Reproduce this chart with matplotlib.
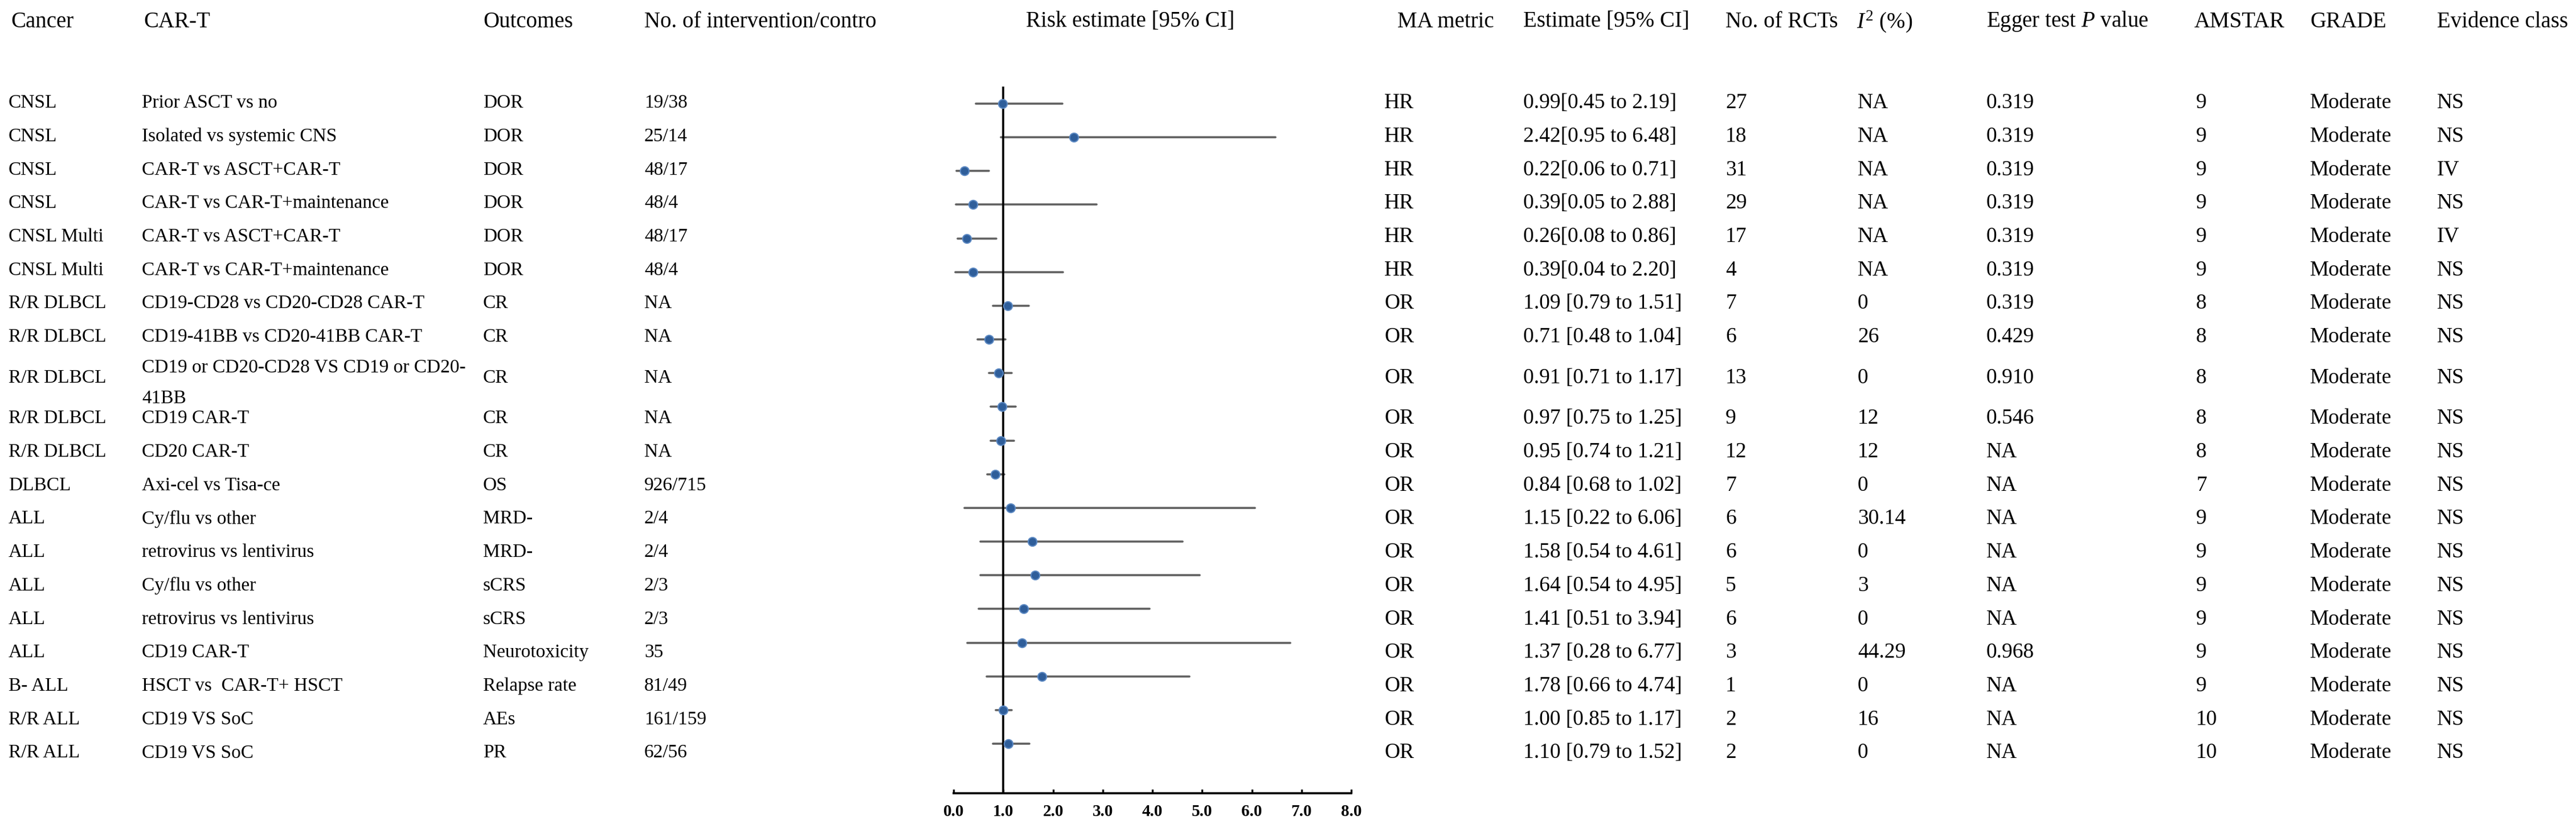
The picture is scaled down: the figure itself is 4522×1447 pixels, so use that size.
import numpy as np
import matplotlib.pyplot as plt

plt.rcParams['font.family'] = ['Liberation Serif', 'DejaVu Serif']
plt.rcParams['mathtext.fontset'] = 'custom'
plt.rcParams['mathtext.rm'] = 'Liberation Serif'
plt.rcParams['mathtext.it'] = 'Liberation Serif:italic'

# table data, one entry per row
cancer = ['CNSL', 'CNSL', 'CNSL', 'CNSL', 'CNSL Multi', 'CNSL Multi',
          'R/R DLBCL', 'R/R DLBCL', 'R/R DLBCL', 'R/R DLBCL', 'R/R DLBCL', 'DLBCL',
          'ALL', 'ALL', 'ALL', 'ALL', 'ALL', 'B- ALL', 'R/R ALL', 'R/R ALL']
car_t = ['Prior ASCT vs no', 'Isolated vs systemic CNS', 'CAR-T vs ASCT+CAR-T',
         'CAR-T vs CAR-T+maintenance', 'CAR-T vs ASCT+CAR-T', 'CAR-T vs CAR-T+maintenance',
         'CD19-CD28 vs CD20-CD28 CAR-T', 'CD19-41BB vs CD20-41BB CAR-T',
         'CD19 or CD20-CD28 VS CD19 or CD20-\n41BB', 'CD19 CAR-T', 'CD20 CAR-T',
         'Axi-cel vs Tisa-ce', 'Cy/flu vs other', 'retrovirus vs lentivirus',
         'Cy/flu vs other', 'retrovirus vs lentivirus', 'CD19 CAR-T',
         'HSCT vs  CAR-T+ HSCT', 'CD19 VS SoC', 'CD19 VS SoC']
outcomes = ['DOR', 'DOR', 'DOR', 'DOR', 'DOR', 'DOR', 'CR', 'CR', 'CR', 'CR', 'CR', 'OS',
            'MRD-', 'MRD-', 'sCRS', 'sCRS', 'Neurotoxicity', 'Relapse rate', 'AEs', 'PR']
n_int_ctrl = ['19/38', '25/14', '48/17', '48/4', '48/17', '48/4', 'NA', 'NA', 'NA', 'NA',
              'NA', '926/715', '2/4', '2/4', '2/3', '2/3', '35', '81/49', '161/159', '62/56']
ma_metric = ['HR'] * 6 + ['OR'] * 14
estimate = [0.99, 2.42, 0.22, 0.39, 0.26, 0.39, 1.09, 0.71, 0.91, 0.97, 0.95, 0.84,
            1.15, 1.58, 1.64, 1.41, 1.37, 1.78, 1.00, 1.10]
ci_low = [0.45, 0.95, 0.06, 0.05, 0.08, 0.04, 0.79, 0.48, 0.71, 0.75, 0.74, 0.68,
          0.22, 0.54, 0.54, 0.51, 0.28, 0.66, 0.85, 0.79]
ci_high = [2.19, 6.48, 0.71, 2.88, 0.86, 2.20, 1.51, 1.04, 1.17, 1.25, 1.21, 1.02,
           6.06, 4.61, 4.95, 3.94, 6.77, 4.74, 1.17, 1.52]
n_rcts = ['27', '18', '31', '29', '17', '4', '7', '6', '13', '9', '12', '7',
          '6', '6', '5', '6', '3', '1', '2', '2']
i2 = ['NA'] * 6 + ['0', '26', '0', '12', '12', '0', '30.14', '0', '3', '0', '44.29', '0', '16', '0']
egger_p = ['0.319'] * 7 + ['0.429', '0.910', '0.546', 'NA', 'NA', 'NA', 'NA', 'NA', 'NA',
                           '0.968', 'NA', 'NA', 'NA']
amstar = ['9'] * 6 + ['8'] * 5 + ['7'] + ['9'] * 6 + ['10', '10']
grade = ['Moderate'] * 20
evidence = ['NS', 'NS', 'IV', 'NS', 'IV'] + ['NS'] * 15

headers = ['Cancer', 'CAR-T', 'Outcomes', 'No. of intervention/contro',
           'Risk estimate [95% CI]', 'MA metric', 'Estimate [95% CI]', 'No. of RCTs',
           r'$I^2$ (%)', r'Egger test $P$ value', 'AMSTAR', 'GRADE', 'Evidence class']
ticks = [0.0, 1.0, 2.0, 3.0, 4.0, 5.0, 6.0, 7.0, 8.0]

est_text = [f"{e:.2f}{'' if m == 'HR' else ' '}[{lo:.2f} to {hi:.2f}]"
            for e, lo, hi, m in zip(estimate, ci_low, ci_high, ma_metric)]

W, H = 4522, 1447
fig = plt.figure(figsize=(W / 100, H / 100), dpi=100)

# text layer in pixel coordinates
tax = fig.add_axes([0, 0, 1, 1])
tax.set_xlim(0, W)
tax.set_ylim(H, 0)
tax.axis('off')

head_x = [19, 252, 848, 1131, 1801, 2453, 2674, 3029, 3259, 3487, 3852, 4055, 4278]
for x, h in zip(head_x, headers):
    tax.text(x, 38, h, fontsize=28, va='center', ha='left')

# table rows: wrapped rows get extra room above and below
gaps = []
for i in range(1, len(car_t)):
    extra = 13 if ('\n' in car_t[i] or '\n' in car_t[i - 1]) else 0
    gaps.append(1 + extra / 58.7)
gaps = np.array(gaps)
row_y = 181 + np.concatenate([[0], np.cumsum(gaps)]) * (1322 - 181) / gaps.sum()

left_cols = [(15, cancer), (249, car_t), (848, outcomes), (1131, n_int_ctrl)]
right_cols = [(2430, ma_metric), (2674, est_text), (3029, n_rcts), (3261, i2),
              (3487, egger_p), (3855, amstar), (4055, grade), (4278, evidence)]
for x, col in left_cols:
    for y, s in zip(row_y, col):
        if '\n' in s:
            tax.text(x, y + 9, s, fontsize=24, va='center', ha='left', linespacing=2.0)
        else:
            tax.text(x, y, s, fontsize=24, va='center', ha='left')
for x, col in right_cols:
    for y, s in zip(row_y, col):
        tax.text(x, y, s, fontsize=27, va='center', ha='left')

# forest plot
x0, x1 = 1674, 2372
top, bottom = 152, 1393
first_row, row_step = 182, 59.16
fax = fig.add_axes([x0 / W, 1 - bottom / H, (x1 - x0) / W, (bottom - top) / H])
fax.patch.set_alpha(0)
fax.set_xlim(0, 8)
fax.set_ylim((bottom - first_row) / row_step, (top - first_row) / row_step)
ypos = np.arange(len(estimate))

for y, lo, hi in zip(ypos, ci_low, ci_high):
    fax.plot([lo, hi], [y, y], color='#5f5f5f', lw=2.6, solid_capstyle='round', zorder=2)
fax.axvline(1.0, color='black', lw=2.6, zorder=3)
fax.plot(estimate, ypos, 'o', ms=11, mfc='#2f5e9a', mec='#5b88c2', mew=1.5, zorder=4)

for s in ['top', 'right', 'left']:
    fax.spines[s].set_visible(False)
fax.spines['bottom'].set_linewidth(2.6)
fax.set_yticks([])
fax.set_xticks(ticks)
fax.set_xticklabels([f'{t:.1f}' for t in ticks], fontsize=21, fontweight='bold')
fax.tick_params(axis='x', direction='in', length=5, width=2.4, pad=14)

fig.savefig('out.png', dpi=100)
